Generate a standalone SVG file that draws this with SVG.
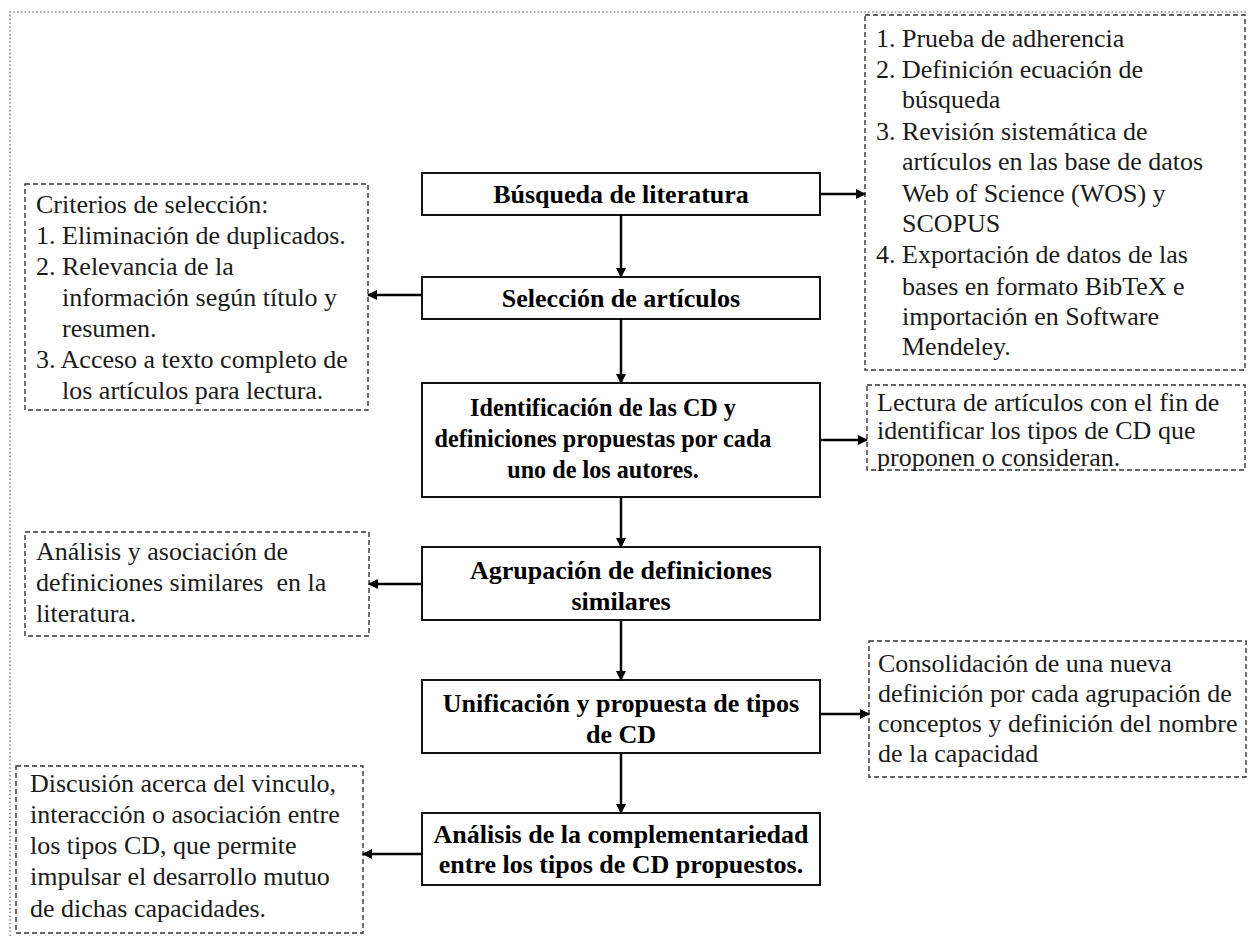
<svg xmlns="http://www.w3.org/2000/svg" width="1248" height="936" viewBox="0 0 1248 936">
<defs>
<marker id="ah" viewBox="0 0 10 10" refX="9" refY="5" markerWidth="4" markerHeight="4" markerUnits="strokeWidth" orient="auto">
<path d="M0,0 L10,5 L0,10 z" fill="#000"/>
</marker>
<style>
.frame{fill:none;stroke:#8a8a8a;stroke-width:1.6;stroke-dasharray:1.6 2.2}
.main{fill:#fff;stroke:#111;stroke-width:2}
.note{fill:#fff;stroke:#333;stroke-width:1.4;stroke-dasharray:5 3}
.mt{font-family:"Liberation Serif","Times New Roman",serif;font-size:26px;font-weight:bold;fill:#000;text-anchor:middle}
.nt{font-family:"Liberation Serif","Times New Roman",serif;font-size:26px;fill:#1a1a1a}
.pre{white-space:pre}
.c{fill:none;stroke:#000;stroke-width:2.5;marker-end:url(#ah)}
</style>
</defs>
<rect width="1248" height="936" fill="#fff"/>
<path class="frame" d="M10,936 V12 H1248"/>

<g id="n1"><rect class="main" x="422" y="173" width="398" height="42"/>
<text class="mt" x="621" y="203">Búsqueda de literatura</text></g>
<g id="n2"><rect class="main" x="422" y="277" width="398" height="42"/>
<text class="mt" x="621" y="307">Selección de artículos</text></g>
<g id="n3"><rect class="main" x="422" y="383" width="398" height="114"/>
<g transform="translate(603,0) scale(0.93,1)">
<text class="mt" x="0" y="416">Identificación de las CD y</text>
<text class="mt" x="0" y="447">definiciones propuestas por cada</text>
<text class="mt" x="0" y="478">uno de los autores.</text></g></g>
<g id="n4"><rect class="main" x="422" y="547" width="398" height="73"/>
<text class="mt" x="621" y="579">Agrupación de definiciones</text>
<text class="mt" x="621" y="610">similares</text></g>
<g id="n5"><rect class="main" x="422" y="680" width="398" height="73"/>
<text class="mt" x="621" y="712">Unificación y propuesta de tipos</text>
<text class="mt" x="621" y="743">de CD</text></g>
<g id="n6"><rect class="main" x="422" y="813" width="398" height="72"/>
<text class="mt" x="621" y="843">Análisis de la complementariedad</text>
<text class="mt" x="621" y="873">entre los tipos de CD propuestos.</text></g>

<g id="r1"><rect class="note" x="865" y="15" width="380" height="355"/>
<text class="nt" x="876" y="47">1. Prueba de adherencia</text>
<text class="nt" x="876" y="78">2. Definición ecuación de</text>
<text class="nt" x="902" y="108">búsqueda</text>
<text class="nt" x="876" y="140">3. Revisión sistemática de</text>
<text class="nt" x="902" y="170">artículos en las base de datos</text>
<text class="nt" x="902" y="202">Web of Science (WOS) y</text>
<text class="nt" x="902" y="232">SCOPUS</text>
<text class="nt" x="876" y="263">4. Exportación de datos de las</text>
<text class="nt" x="902" y="295">bases en formato BibTeX e</text>
<text class="nt" x="902" y="325">importación en Software</text>
<text class="nt" x="902" y="355">Mendeley.</text></g>

<g id="l1"><rect class="note" x="25" y="184" width="343" height="226"/>
<text class="nt" x="36" y="213">Criterios de selección:</text>
<text class="nt" x="36" y="244">1. Eliminación de duplicados.</text>
<text class="nt" x="36" y="275">2. Relevancia de la</text>
<text class="nt" x="62" y="306">información según título y</text>
<text class="nt" x="62" y="337">resumen.</text>
<text class="nt" x="36" y="368">3. Acceso a texto completo de</text>
<text class="nt" x="62" y="399">los artículos para lectura.</text></g>

<g id="r2"><rect class="note" x="867" y="385" width="378" height="85"/>
<text class="nt" x="877" y="411">Lectura de artículos con el fin de</text>
<text class="nt" x="877" y="439">identificar los tipos de CD que</text>
<text class="nt" x="877" y="466">proponen o consideran.</text></g>

<g id="l2"><rect class="note" x="25" y="532" width="344" height="104"/>
<text class="nt" x="36" y="560">Análisis y asociación de</text>
<text class="nt pre" x="36" y="591">definiciones similares  en la</text>
<text class="nt" x="36" y="622">literatura.</text></g>

<g id="r3"><rect class="note" x="869" y="641" width="377" height="136"/>
<text class="nt" x="878" y="672">Consolidación de una nueva</text>
<text class="nt" x="878" y="702">definición por cada agrupación de</text>
<text class="nt" x="878" y="732">conceptos y definición del nombre</text>
<text class="nt" x="878" y="762">de la capacidad</text></g>

<g id="l3"><rect class="note" x="16" y="766" width="347" height="167"/>
<text class="nt" x="30" y="792">Discusión acerca del vinculo,</text>
<text class="nt" x="30" y="823">interacción o asociación entre</text>
<text class="nt" x="30" y="854">los tipos CD, que permite</text>
<text class="nt" x="30" y="885">impulsar el desarrollo mutuo</text>
<text class="nt" x="30" y="917">de dichas capacidades.</text></g>

<g id="connectors">
<path class="c" d="M621,215 V277"/>
<path class="c" d="M621,319 V383"/>
<path class="c" d="M621,497 V547"/>
<path class="c" d="M621,620 V680"/>
<path class="c" d="M621,753 V813"/>
<path class="c" d="M820,194 H865"/>
<path class="c" d="M422,295 H368"/>
<path class="c" d="M820,440 H867"/>
<path class="c" d="M422,584 H369"/>
<path class="c" d="M820,714 H869"/>
<path class="c" d="M422,854 H363"/>
</g>
</svg>
